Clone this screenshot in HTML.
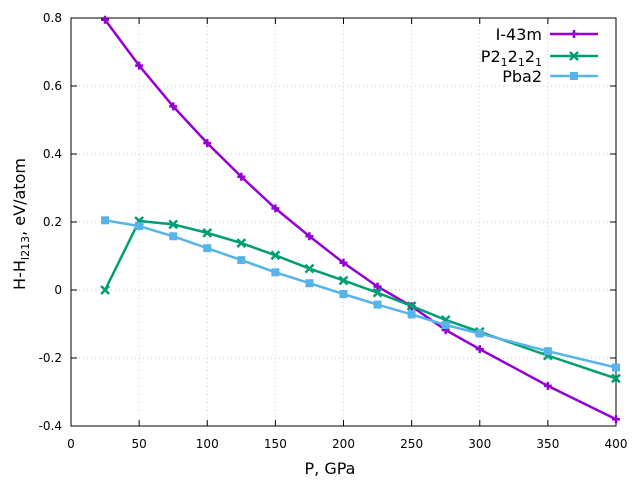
<!DOCTYPE html>
<html><head><meta charset="utf-8"><style>
body{margin:0;background:#fff}
svg{font-family:"DejaVu Sans","Liberation Sans",sans-serif}
</style></head><body>
<svg id="chart" width="640" height="480">
<g id="grid"></g><g id="axes"></g><g id="series"></g>
<text x="330" y="474" font-size="16" text-anchor="middle">P, GPa</text>
<text transform="translate(25,224) rotate(-90)" font-size="16" text-anchor="middle">H-H<tspan font-size="11" dy="4">I213</tspan><tspan dy="-4">, eV/atom</tspan></text>
<g id="legend"></g>
</svg>
<script>
const xTicks=[0,50,100,150,200,250,300,350,400];
const yTicks=[-0.4,-0.2,0,0.2,0.4,0.6,0.8];
const yTickLabels=["-0.4","-0.2","0","0.2","0.4","0.6","0.8"];
const pressI=[25,50,75,100,125,150,175,200,225,250,275,300,350,400];
const valsI43m=[0.795,0.66,0.54,0.432,0.333,0.24,0.158,0.08,0.01,-0.048,-0.118,-0.174,-0.282,-0.38];
const pressP=[25,50,75,100,125,150,175,200,225,250,275,300,350,400];
const valsP212121=[0.0,0.203,0.193,0.168,0.138,0.102,0.063,0.028,-0.008,-0.047,-0.088,-0.123,-0.193,-0.26];
const pressB=[25,50,75,100,125,150,175,200,225,250,275,300,350,400];
const valsPba2=[0.205,0.188,0.158,0.123,0.088,0.052,0.02,-0.012,-0.043,-0.072,-0.103,-0.128,-0.18,-0.228];
const NS="http://www.w3.org/2000/svg";
const X0=71,X1=616,Y0=426,Y1=18;
const sx=v=>X0+(v-0)/400*(X1-X0);
const sy=v=>Y0-(v+0.4)/1.2*(Y0-Y1);
function mk(t,a,p){const e=document.createElementNS(NS,t);for(const k in a)e.setAttribute(k,a[k]);p.appendChild(e);return e;}
const grid=document.getElementById('grid'),axes=document.getElementById('axes'),ser=document.getElementById('series'),leg=document.getElementById('legend');
xTicks.forEach(v=>{const x=sx(v);
 const g=mk('line',{x1:x,x2:x,y1:Y1,y2:Y0,stroke:'#ccc','stroke-dasharray':'1,3'},grid);
 
 
 mk('line',{x1:x,x2:x,y1:Y0,y2:Y0-6,stroke:'#000'},axes);
 mk('line',{x1:x,x2:x,y1:Y1,y2:Y1+6,stroke:'#000'},axes);
 const t=mk('text',{x:x,y:448,'font-size':12,'text-anchor':'middle'},axes);t.textContent=v;
 
 
});
yTicks.forEach((v,i)=>{const y=sy(v);
 const g=mk('line',{x1:X0,x2:X1,y1:y,y2:y,stroke:'#ccc','stroke-dasharray':'1,3'},grid);
 
 
 mk('line',{x1:X0,x2:X0+6,y1:y,y2:y,stroke:'#000'},axes);
 mk('line',{x1:X1,x2:X1-6,y1:y,y2:y,stroke:'#000'},axes);
 const t=mk('text',{x:62,y:y+4,'font-size':12,'text-anchor':'end'},axes);t.textContent=yTickLabels[i];
 
 
});
const fr=mk('rect',{x:X0,y:Y1,width:X1-X0,height:Y0-Y1,fill:'none',stroke:'#000'},axes);


function marker(type,x,y,c,p){
 if(type==='plus'){mk('path',{d:`M${x-4},${y}H${x+4}M${x},${y-4}V${y+4}`,stroke:c,'stroke-width':2.5},p);}
 else if(type==='x'){mk('path',{d:`M${x-4},${y-4}L${x+4},${y+4}M${x-4},${y+4}L${x+4},${y-4}`,stroke:c,'stroke-width':2.5},p);}
 else{mk('rect',{x:x-4,y:y-4,width:8,height:8,fill:c},p);}
}
const S=[
 {n:'series-i43m',label:'I-43m',xs:pressI,ys:valsI43m,c:'#9400d3',m:'plus',ly:34},
 {n:'series-p212121',label:'P2<tspan font-size="11" dy="4">1</tspan><tspan dy="-4">2</tspan><tspan font-size="11" dy="4">1</tspan><tspan dy="-4">2</tspan><tspan font-size="11" dy="4">1</tspan>',xs:pressP,ys:valsP212121,c:'#009e73',m:'x',ly:56},
 {n:'series-pba2',label:'Pba2',xs:pressB,ys:valsPba2,c:'#56b4e9',m:'sq',ly:76}
];
S.forEach(s=>{
 const g=mk('g',{},ser);
 
 
 const pts=s.xs.map((v,i)=>sx(v)+','+sy(s.ys[i])).join(' ');
 mk('polyline',{points:pts,fill:'none',stroke:s.c,'stroke-width':2.5},g);
 s.xs.forEach((v,i)=>marker(s.m,sx(v),sy(s.ys[i]),s.c,g));
 const lg=mk('g',{},leg);
 
 
 const t=mk('text',{x:542,y:s.ly+6,'font-size':16,'text-anchor':'end'},lg);t.innerHTML=s.label;
 mk('line',{x1:550,x2:598,y1:s.ly,y2:s.ly,stroke:s.c,'stroke-width':2.5},lg);
 marker(s.m,574,s.ly,s.c,lg);
});
</script>
</body></html>
